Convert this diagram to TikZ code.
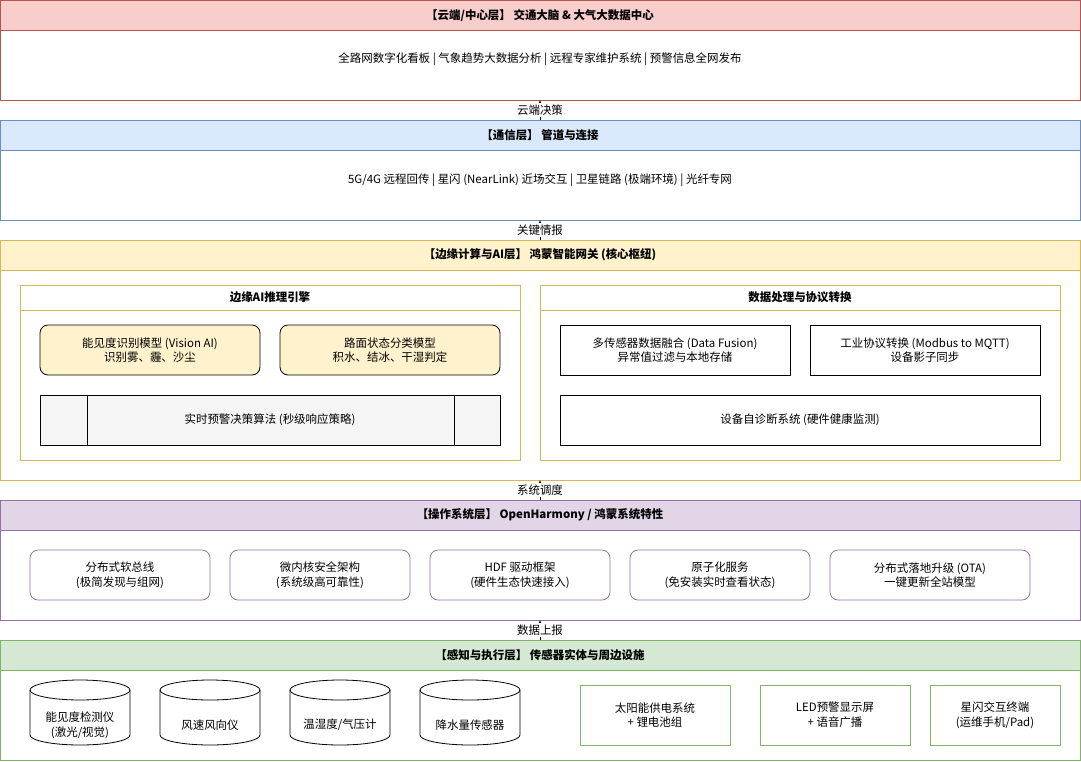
\documentclass[tikz,border=0pt]{standalone}
\usepackage{fontspec}
\setmainfont{Noto Sans CJK SC}
\usetikzlibrary{arrows.meta}
\definecolor{redF}{HTML}{F8CECC}\definecolor{redD}{HTML}{B85450}
\definecolor{bluF}{HTML}{DAE8FC}\definecolor{bluD}{HTML}{6C8EBF}
\definecolor{yelF}{HTML}{FFF2CC}\definecolor{yelD}{HTML}{D6B656}
\definecolor{purF}{HTML}{E1D5E7}\definecolor{purD}{HTML}{9673A6}
\definecolor{grnF}{HTML}{D5E8D4}\definecolor{grnD}{HTML}{82B366}
\definecolor{gryF}{HTML}{F5F5F5}
\tikzset{
  every node/.style={font=\fontsize{8.6}{11}\selectfont, align=center},
  box/.style={draw, line width=0.6pt},
  bold/.style={font=\fontsize{8.6}{11}\selectfont\bfseries},
  up/.style={-{Latex[length=3pt,width=3pt]}, line width=0.6pt},
  tag/.style={fill=white, inner sep=1pt}
}
\newcommand{\layer}[6]{% name, top, bottom, fill, draw, title
  \draw[box, draw=#5, fill=white] (0,#2) rectangle (1080,#3);
  \draw[box, draw=#5, fill=#4] (0,#2) rectangle (1080,#2+30);
  \node[bold] (#1) at (540,#2+15) {#6};
  \coordinate (#1-top) at (540,#2);
  \coordinate (#1-bot) at (540,#3);
}
\newcommand{\cyl}[4]{% name, left, right, text
  \draw[box, fill=white] (#2,690) -- (#2,735) arc[start angle=180, end angle=0, x radius=(#3-#2)/2, y radius=10]
    -- (#3,690) arc[start angle=0, end angle=-180, x radius=(#3-#2)/2, y radius=10];
  \draw[box] (#2,690) arc[start angle=180, end angle=0, x radius=(#3-#2)/2, y radius=10];
  \node (#1) at ({(#2+#3)/2},725) {#4};
}
\begin{document}
\begin{tikzpicture}[x=0.75pt, y=-0.75pt]
\useasboundingbox (0,0) rectangle (1081,761);

% cloud
\layer{cloud}{0.5}{100}{redF}{redD}{【云端/中心层】 交通大脑 \& 大气大数据中心}
\node (cloudtxt) at (540,59) {全路网数字化看板 | 气象趋势大数据分析 | 远程专家维护系统 | 预警信息全网发布};

% communication
\layer{comm}{120}{220}{bluF}{bluD}{【通信层】 管道与连接}
\node (commtxt) at (540,180) {5G/4G 远程回传 | 星闪 (NearLink) 近场交互 | 卫星链路 (极端环境) | 光纤专网};

% edge
\layer{edge}{240}{480}{yelF}{yelD}{【边缘计算与AI层】 鸿蒙智能网关 (核心枢纽)}
\draw[box, draw=yelD, fill=white] (20,285) rectangle (520,460);
\draw[box, draw=yelD] (20,310) -- (520,310);
\node[bold] (engine) at (270,297.5) {边缘AI推理引擎};
\draw[box, fill=yelF, rounded corners=6pt] (40,325) rectangle (260,375);
\node (vision) at (150,350) {能见度识别模型 (Vision AI)\\识别雾、霾、沙尘};
\draw[box, fill=yelF, rounded corners=6pt] (280,325) rectangle (500,375);
\node (road) at (390,350) {路面状态分类模型\\积水、结冰、干湿判定};
\draw[box, fill=gryF] (40,395) rectangle (500,445);
\draw[box] (87,395) -- (87,445) (454,395) -- (454,445);
\node (decide) at (270,420) {实时预警决策算法 (秒级响应策略)};

\draw[box, draw=yelD, fill=white] (540,285) rectangle (1060,460);
\draw[box, draw=yelD] (540,310) -- (1060,310);
\node[bold] (proc) at (800,297.5) {数据处理与协议转换};
\draw[box] (560,325) rectangle (790,375);
\node (fusion) at (675,350) {多传感器数据融合 (Data Fusion)\\异常值过滤与本地存储};
\draw[box] (810,325) rectangle (1040,375);
\node (modbus) at (925,350) {工业协议转换 (Modbus to MQTT)\\设备影子同步};
\draw[box] (560,395) rectangle (1040,445);
\node (diag) at (800,420) {设备自诊断系统 (硬件健康监测)};

% os
\layer{os}{500}{620}{purF}{purD}{【操作系统层】 OpenHarmony / 鸿蒙系统特性}
\foreach \x/\n/\t in {30/bus/分布式软总线\\(极简发现与组网),
                     230/kernel/微内核安全架构\\(系统级高可靠性),
                     430/hdf/HDF 驱动框架\\(硬件生态快速接入),
                     630/atom/原子化服务\\(免安装实时查看状态)}{
  \draw[box, draw=purD, fill=white, rounded corners=6pt] (\x,550) rectangle (\x+180,600);
  \node (\n) at (\x+90,575) {\t};
}
\draw[box, draw=purD, fill=white, rounded corners=6pt] (830,550) rectangle (1030,600);
\node (ota) at (930,575) {分布式落地升级 (OTA)\\一键更新全站模型};

% sensing
\layer{sense}{640}{760}{grnF}{grnD}{【感知与执行层】 传感器实体与周边设施}
\cyl{vis}{30}{130}{能见度检测仪\\(激光/视觉)}
\cyl{wind}{160}{260}{风速风向仪}
\cyl{temp}{290}{390}{温湿度/气压计}
\cyl{rain}{420}{520}{降水量传感器}
\draw[box, draw=grnD] (580,685) rectangle (730,745);
\node (solar) at (655,715) {太阳能供电系统\\+ 锂电池组};
\draw[box, draw=grnD] (760,685) rectangle (910,745);
\node (led) at (835,715) {LED预警显示屏\\+ 语音广播};
\draw[box, draw=grnD] (930,685) rectangle (1060,745);
\node (term) at (995,715) {星闪交互终端\\(运维手机/Pad)};

% links
\draw[up] (comm-top) -- node[tag] {云端决策} (cloud-bot);
\draw[up] (edge-top) -- node[tag] {关键情报} (comm-bot);
\draw[up] (os-top) -- node[tag] {系统调度} (edge-bot);
\draw[up] (sense-top) -- node[tag] {数据上报} (os-bot);
\end{tikzpicture}
\end{document}
